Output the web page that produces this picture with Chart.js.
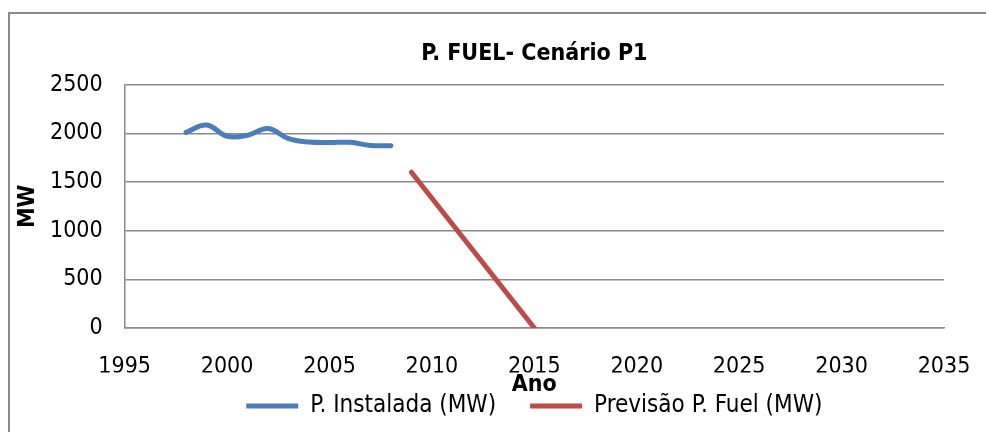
<!DOCTYPE html>
<html>
<head>
<meta charset="utf-8">
<title>P. FUEL- Cenário P1</title>
<script src="https://cdn.jsdelivr.net/npm/chart.js@4.4.1/dist/chart.umd.min.js"></script>
<style>
  html, body { margin: 0; padding: 0; background: #fff; overflow: hidden; width: 986px; height: 432px; }
  /* chart frame: only the left and top edges fall inside the window */
  #frame { position: absolute; left: 8px; top: 12px; width: 1200px; height: 600px;
           border-left: 2px solid #8a8a8a; border-top: 2px solid #8a8a8a; }
  #fuelChart { position: absolute; left: 0; top: 0; }
</style>
</head>
<body>
<div id="frame"></div>
<canvas id="fuelChart" width="986" height="432"></canvas>
<script>
// installed capacity, yearly
const years = [1998, 1999, 2000, 2001, 2002, 2003, 2004, 2005, 2006, 2007, 2008];
const installedMW = [2010, 2085, 1970, 1980, 2050, 1945, 1910, 1905, 1907, 1875, 1873];

// forecast for the fuel plants (straight decline)
const forecastYears = [2009, 2015];
const forecastMW = [1600, 0];

const seriesNames = ['P. Instalada (MW)', 'Previsão P. Fuel (MW)'];
const yearTicks = [1995, 2000, 2005, 2010, 2015, 2020, 2025, 2030, 2035];
const mwTicks = [0, 500, 1000, 1500, 2000, 2500];

const FONT = "'DejaVu Sans Condensed', 'DejaVu Sans', sans-serif";
const GRID = '#8a8a8a';

function toPoints(xs, ys) {
  return xs.map((x, i) => ({ x: x, y: ys[i] }));
}

Chart.defaults.font.family = FONT;
Chart.defaults.color = '#000';

new Chart(document.getElementById('fuelChart'), {
  type: 'line',
  data: {
    datasets: [
      {
        label: seriesNames[0],
        data: toPoints(years, installedMW),
        borderColor: '#4a7ebb',
        backgroundColor: '#4a7ebb',
        borderWidth: 5,
        borderCapStyle: 'round',
        tension: 0.4,
        pointRadius: 0,
        fill: false
      },
      {
        label: seriesNames[1],
        data: toPoints(forecastYears, forecastMW),
        borderColor: '#be4b48',
        backgroundColor: '#be4b48',
        borderWidth: 5,
        borderCapStyle: 'round',
        tension: 0,
        pointRadius: 0,
        fill: false
      }
    ]
  },
  options: {
    responsive: false,
    animation: false,
    // bottom is negative to make up for the overlapping "Ano" box below
    layout: { padding: { top: 30, left: 8, right: 42, bottom: -8.5 } },
    scales: {
      x: {
        type: 'linear',
        min: yearTicks[0],
        max: yearTicks[yearTicks.length - 1],
        afterBuildTicks: axis => { axis.ticks = yearTicks.map(v => ({ value: v })); },
        // no tick marks drawn; tickLength only spaces the labels
        grid: { display: false, drawTicks: true, tickLength: 33 },
        border: { display: true, color: GRID, width: 1.5 },
        ticks: {
          padding: 0,
          font: { size: 23, lineHeight: 0.5 },
          maxRotation: 0,
          callback: v => String(v)
        }
      },
      y: {
        min: mwTicks[0],
        max: mwTicks[mwTicks.length - 1],
        afterBuildTicks: axis => { axis.ticks = mwTicks.map(v => ({ value: v })); },
        grid: { color: GRID, lineWidth: 1.5, drawTicks: true, tickLength: 22, tickColor: 'rgba(0,0,0,0)' },
        border: { display: true, color: GRID, width: 1.5 },
        ticks: {
          padding: 0,
          font: { size: 23 },
          callback: v => String(v)
        },
        title: {
          display: true,
          text: 'MW',
          font: { size: 23, weight: 'bold', lineHeight: 1 },
          padding: { top: 9, bottom: 10 }
        }
      }
    },
    plugins: {
      title: {
        display: true,
        fullSize: false,
        text: 'P. FUEL- Cenário P1',
        font: { size: 23, weight: 'bold', lineHeight: 1.2 },
        padding: { top: 10, bottom: 17 }
      },
      // axis name sits between the year labels and the legend; the negative
      // bottom padding pulls the legend up into its space
      subtitle: {
        display: true,
        fullSize: false,
        position: 'bottom',
        weight: 500,
        text: 'Ano',
        font: { size: 23, weight: 'bold', lineHeight: 0.2 },
        padding: { top: 10, bottom: -27 }
      },
      legend: {
        position: 'bottom',
        fullSize: false,
        weight: 1000,
        labels: {
          usePointStyle: true,
          pointStyle: 'line',
          pointStyleWidth: 52,
          padding: 34,
          font: { size: 24 }
        }
      },
      tooltip: { enabled: false }
    }
  }
});
</script>
</body>
</html>
